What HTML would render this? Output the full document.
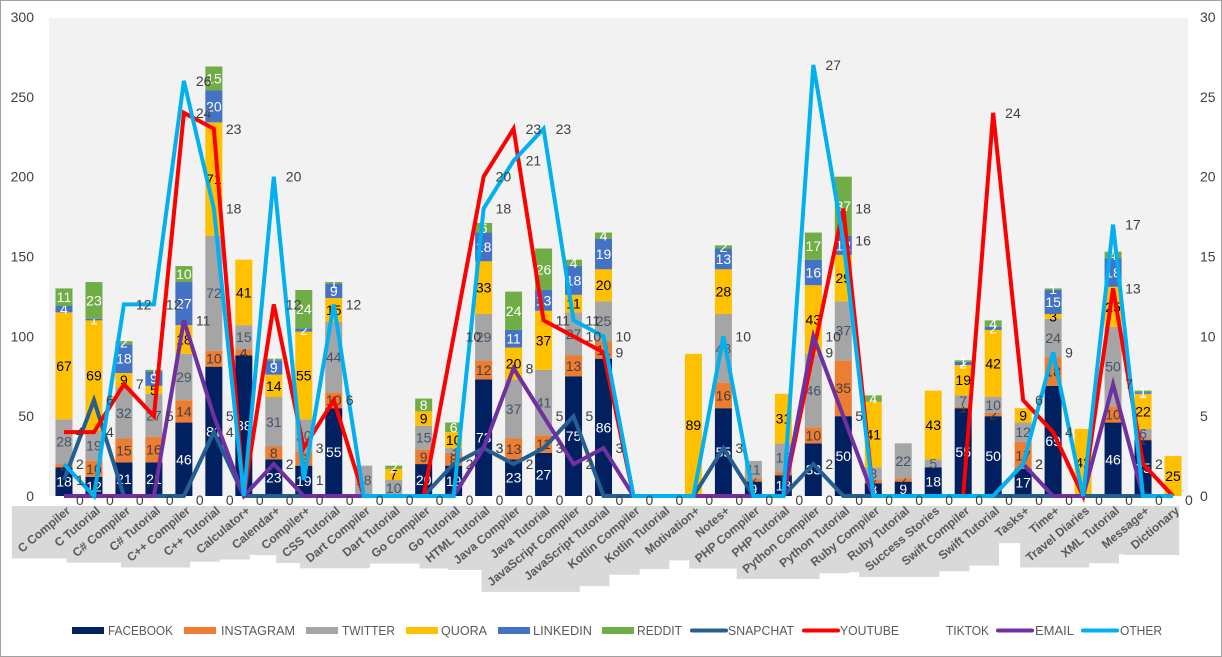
<!DOCTYPE html>
<html><head><meta charset="utf-8"><style>
html,body{margin:0;padding:0;background:#fff;}
svg{display:block;font-family:"Liberation Sans",sans-serif;}
</style></head><body>
<svg id="chart" width="1222" height="657" viewBox="0 0 1222 657" xmlns="http://www.w3.org/2000/svg">
<rect x="0.5" y="0.5" width="1221" height="656" fill="#fff" stroke="#a0a0a0"/>
<rect x="49" y="18" width="1139" height="478" fill="#f2f2f2"/>
<g id="labelsBg"></g><g id="xlabels"></g>
<g id="bars"></g><g id="lines"></g><g id="axes"></g><g id="legend"></g>
</svg>
<script>
const categories=["C Compiler","C Tutorial","C# Compiler","C# Tutorial","C++ Compiler","C++ Tutorial","Calculator+","Calendar+","Compiler+","CSS Tutorial","Dart Compiler","Dart Tutorial","Go Compiler","Go Tutorial","HTML Tutorial","Java Compiler","Java Tutorial","JavaScript Compiler","JavaScript Tutorial","Kotlin Compiler","Kotlin Tutorial","Motivation+","Notes+","PHP Compiler","PHP Tutorial","Python Compiler","Python Tutorial","Ruby Compiler","Ruby Tutorial","Success Stories","Swift Compiler","Swift Tutorial","Tasks+","Time+","Travel Diaries","XML Tutorial","Message+","Dictionary"];
const facebook =[18,12,21,21,46,81,88,23,19,55,1,0,20,19,73,23,27,75,86,0,0,0,55,9,13,33,50,8,9,18,55,50,17,69,0,46,35,0];
const instagram=[2,10,15,16,14,10,4,8,9,10,0,0,9,8,12,13,11,13,11,0,0,0,16,2,2,10,35,2,2,0,1,2,17,18,0,10,1,0];
const twitter  =[28,19,32,27,29,72,15,31,20,44,18,10,15,3,29,37,41,27,25,0,0,0,43,11,18,46,37,8,22,5,7,10,12,24,0,50,6,0];
const quora    =[67,69,9,5,18,71,41,14,55,15,0,7,9,10,33,20,37,11,20,0,0,89,28,0,31,43,29,41,0,43,19,42,9,3,42,25,22,25];
const linkedin =[4,1,18,9,27,20,0,9,2,9,0,0,0,0,18,11,13,18,19,0,0,0,13,0,0,16,12,0,0,0,2,2,0,15,0,18,1,0];
const reddit   =[11,23,2,1,10,15,0,1,24,1,0,2,8,6,6,24,26,4,4,0,0,0,2,0,0,17,37,4,0,0,1,4,0,1,0,4,1,0];
const snapchat =[1,6,0,0,0,4,0,0,0,0,0,0,0,2,3,2,3,5,0,0,0,0,3,0,0,2,0,0,0,0,0,0,0,0,0,0,0,0];
const youtube  =[4,4,7,5,24,23,0,12,3,6,0,0,0,10,20,23,11,10,9,0,0,0,0,0,0,9,18,0,0,0,0,24,6,4,0,13,2,0];
const tiktok   =[0,0,0,0,0,0,0,0,0,0,0,0,0,0,0,0,0,0,0,0,0,0,0,0,0,0,0,0,0,0,0,0,0,0,0,0,0,0];
const email    =[0,0,0,0,11,5,0,2,0,0,0,0,0,0,3,8,5,2,3,0,0,0,0,0,0,10,5,0,0,0,0,0,2,0,0,7,0,0];
const other    =[2,0,12,12,26,18,0,20,1,12,0,0,0,0,18,21,23,11,10,0,0,0,10,0,0,27,16,0,0,0,0,0,2,9,0,17,0,0];
const leftTicks=[0,50,100,150,200,250,300];
const rightTicks=[0,5,10,15,20,25,30];

const NS="http://www.w3.org/2000/svg";
const X0=49,X1=1188,Y0=496,YT=17;
const band=(X1-X0)/categories.length;
const xc=i=>X0+band*(i+0.5);
const yL=v=>Y0-(v/300)*(Y0-YT);
const yR=v=>Y0-(v/30)*(Y0-YT);
function mk(tag,attrs,parent,txt){const e=document.createElementNS(NS,tag);for(const k in attrs)e.setAttribute(k,attrs[k]);if(txt!==undefined)e.textContent=txt;parent.appendChild(e);return e;}
const gB=document.getElementById('bars'),gL=document.getElementById('lines'),gA=document.getElementById('axes'),gX=document.getElementById('xlabels'),gXB=document.getElementById('labelsBg'),gLeg=document.getElementById('legend');

const stack=[["facebook",facebook,"#002060","#fff"],["instagram",instagram,"#ed7d31","#404040"],["twitter",twitter,"#a5a5a5","#44546a"],["quora",quora,"#ffc000","#000"],["linkedin",linkedin,"#4472c4","#fff"],["reddit",reddit,"#70ad47","#fff"]];
const BW=17;
categories.forEach((c,i)=>{
  let base=0;
  stack.forEach(s=>{
    const v=s[1][i];
    const r=mk('rect',{x:xc(i)-BW/2,y:yL(base+v),width:BW,height:yL(base)-yL(base+v),fill:s[2]},gB);
    
    
    if(v>0){
      const t=mk('text',{x:xc(i),y:(yL(base)+yL(base+v))/2+5,'text-anchor':'middle','font-size':14,fill:s[3]},gB,v);
      
      
    }
    base+=v;
  });
});

const lines=[["snapchat",snapchat,"#255e91"],["youtube",youtube,"#ff0000"],["tiktok",tiktok,"none"],["email",email,"#7030a0"],["other",other,"#00b0f0"]];
lines.forEach(l=>{
  if(l[2]!=="none"){
    const p=mk('polyline',{points:l[1].map((v,i)=>xc(i)+','+yR(v)).join(' '),fill:'none',stroke:l[2],'stroke-width':4,'stroke-linejoin':'miter'},gL);
    
    
  }
});
lines.forEach(l=>{
  l[1].forEach((v,i)=>{
    if(v>0 || l[0]==="tiktok"){
      const t=mk('text',{x:xc(i)+12,y:yR(v)+(v>0?5:9),'font-size':14,fill:'#404040'},gL,v);
      
      
    }
  });
});

leftTicks.forEach(v=>{
  const t=mk('text',{x:34,y:yL(v)+5,'text-anchor':'end','font-size':14,fill:'#404040'},gA,v);
  
  
});
rightTicks.forEach(v=>{
  const t=mk('text',{x:1200,y:yR(v)+5,'font-size':14,fill:'#404040'},gA,v);
  
  
});

categories.forEach((c,i)=>{
  const ax=xc(i)+7,ay=512;
  const t=mk('text',{x:ax,y:ay,'text-anchor':'end','font-size':12,'font-weight':'bold',fill:'#595959',transform:`rotate(-40 ${ax} ${ay})`},gX,c);
  
  
});
gX.querySelectorAll('text').forEach(t=>{
  const b=t.getBoundingClientRect();
  const r=mk('rect',{x:b.left-3,y:506,width:b.width,height:b.bottom-506+3,fill:'#d9d9d9'},gXB);
  
  
});

const leg=[["FACEBOOK","box","#002060",72,108,65],["INSTAGRAM","box","#ed7d31",184,221,74],["TWITTER","box","#a5a5a5",306,342,53],["QUORA","box","#ffc000",406,441,46],["LINKEDIN","box","#4472c4",498,533,59],["REDDIT","box","#70ad47",602,637,45],["SNAPCHAT","line","#255e91",692,728,66],["YOUTUBE","line","#ff0000",804,840,59],["TIKTOK","none","",0,946,43],["EMAIL","line","#7030a0",998,1035,39],["OTHER","line","#00b0f0",1083,1120,42]];
leg.forEach(e=>{
  const g=mk('g',{},gLeg);
  
  
  if(e[1]==="box"){mk('rect',{x:e[3],y:627,width:32,height:7,fill:e[2]},g);}
  else if(e[1]==="line"){mk('line',{x1:e[3],y1:630.5,x2:e[3]+34,y2:630.5,stroke:e[2],'stroke-width':4,'stroke-linecap':'round'},g);}
  mk('text',{x:e[4],y:635,'font-size':13,fill:'#595959',textLength:e[5],lengthAdjust:'spacingAndGlyphs'},g,e[0]);
});
</script>
</body></html>
